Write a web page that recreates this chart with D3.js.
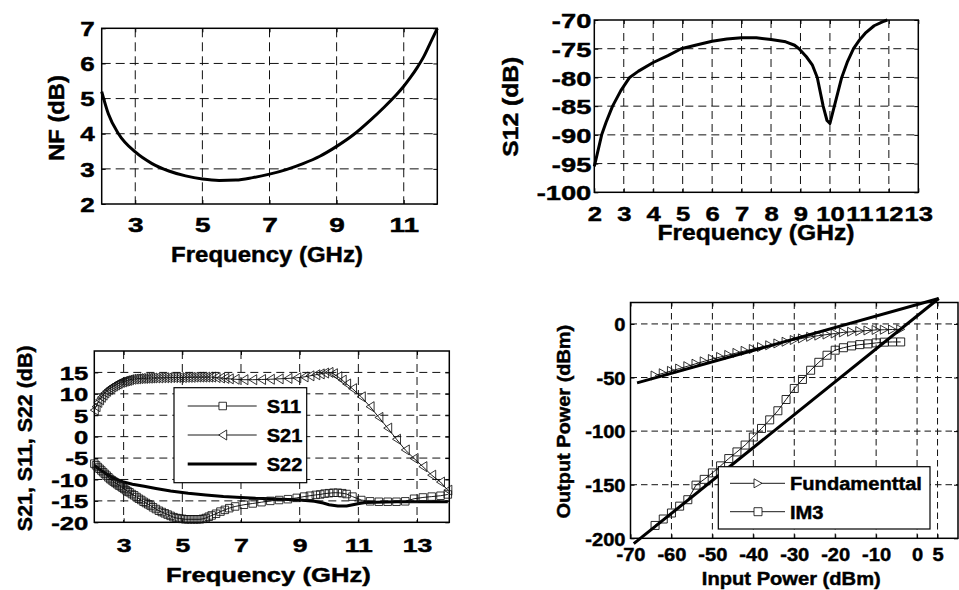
<!DOCTYPE html>
<html><head><meta charset="utf-8">
<script src="https://cdn.jsdelivr.net/npm/d3@7"></script>
<style>
body{margin:0;background:#fff}
svg{display:block}
text{font-family:"Liberation Sans",Arial,Helvetica,sans-serif;font-weight:bold;fill:#000;stroke:#000;stroke-width:0.45px}
</style>
</head><body><script>
// ---------- Panel 1: NF ----------
const nfFreq = [2.0,2.2,2.5,3.0,3.5,4.0,4.5,5.0,5.5,6.0,6.5,7.0,7.5,8.0,8.5,9.0,9.5,10.0,10.4,10.8,11.0,11.2,11.4,11.6,11.8,12.0];
const nfVal  = [5.2,4.56,4.0,3.48,3.15,2.94,2.8,2.71,2.67,2.68,2.75,2.85,2.98,3.15,3.36,3.64,3.97,4.38,4.74,5.13,5.35,5.6,5.88,6.2,6.6,7.0];
const nfXTicks = [3,5,7,9,11];
const nfYTicks = [2,3,4,5,6,7];

// ---------- Panel 2: S12 ----------
const s12Freq = [2.0,2.1,2.25,2.4,2.62,2.9,3.2,3.5,4.0,4.5,4.95,5.5,6.0,6.5,7.0,7.5,8.0,8.5,8.8,8.95,9.2,9.4,9.57,9.77,9.9,10.0,10.2,10.4,10.6,10.8,11.0,11.2,11.5,11.8,11.95];
const s12Val  = [-95.5,-93.3,-90,-87.8,-85,-82.3,-80,-78.9,-77.4,-76.2,-75.0,-74.3,-73.7,-73.3,-73.1,-73.1,-73.4,-73.8,-74.4,-75.0,-76.4,-77.8,-80,-85,-87.5,-88,-84,-80,-77.2,-75,-73.5,-72.3,-71.0,-70.3,-70.0];
const s12XTicks = [2,3,4,5,6,7,8,9,10,11,12,13];
const s12YTicks = [-100,-95,-90,-85,-80,-75,-70];

// ---------- Panel 3: S-parameters ----------
const spFreq = [2.00,2.06,2.12,2.18,2.24,2.30,2.36,2.42,2.48,2.54,2.60,2.66,2.72,2.78,2.84,2.90,2.96,3.02,3.08,3.14,3.20,3.28,3.36,3.44,3.52,3.60,3.68,3.76,3.84,3.92,4.00,4.10,4.20,4.30,4.40,4.50,4.60,4.70,4.80,4.90,5.00,5.10,5.20,5.30,5.40,5.50,5.60,5.70,5.80,5.90,6.00,6.15,6.30,6.45,6.60,6.80,7.10,7.40,7.70,8.00,8.30,8.60,8.90,9.15,9.35,9.55,9.70,9.85,10.00,10.15,10.30,10.45,10.60,10.80,11.10,11.40,11.70,12.00,12.30,12.60,12.90,13.20,13.50,13.80,14.05];
const s21Val = [6.2,7.0,8.0,8.6,9.2,9.7,10.2,10.6,11.0,11.3,11.6,11.85,12.1,12.3,12.5,12.7,12.8,12.95,13.05,13.15,13.3,13.4,13.45,13.5,13.55,13.6,13.6,13.65,13.65,13.7,13.7,13.7,13.7,13.75,13.75,13.75,13.8,13.8,13.8,13.8,13.8,13.85,13.85,13.85,13.9,13.9,13.9,13.9,13.9,13.9,13.9,13.8,13.7,13.6,13.5,13.4,13.3,13.3,13.35,13.4,13.5,13.6,13.75,13.95,14.2,14.45,14.65,14.85,15.0,14.7,14.0,13.2,12.3,11.2,9.3,7.0,4.5,2.0,-0.6,-3.1,-5.1,-7.0,-9.0,-10.6,-12.5];
const s11Val = [-6.3,-6.7,-7.1,-7.5,-7.9,-8.3,-8.7,-9.1,-9.5,-9.9,-10.2,-10.5,-10.8,-11.1,-11.4,-11.6,-11.9,-12.2,-12.5,-12.8,-13.0,-13.4,-13.7,-14.1,-14.5,-14.8,-15.2,-15.5,-15.8,-16.1,-16.5,-16.9,-17.3,-17.6,-17.9,-18.2,-18.5,-18.8,-19.0,-19.1,-19.2,-19.3,-19.3,-19.3,-19.3,-19.3,-19.3,-19.2,-19.0,-18.7,-18.4,-18.0,-17.5,-17.1,-16.7,-16.3,-15.9,-15.6,-15.3,-15.0,-14.8,-14.6,-14.3,-14.0,-13.8,-13.6,-13.5,-13.3,-13.2,-13.1,-13.1,-13.2,-13.4,-14.0,-14.8,-15.1,-15.2,-15.2,-15.2,-15.1,-14.5,-14.2,-14.0,-13.8,-13.5];
const s22Freq = [2.0,2.3,2.6,3.0,3.3,3.7,4.1,4.6,5.2,5.8,6.4,7.0,7.5,8.0,8.6,9.0,9.5,9.8,10.0,10.3,10.6,10.9,11.2,11.6,12.3,13.0,14.05];
const s22Val  = [-6.8,-8.2,-9.5,-10.6,-11.1,-11.6,-12.1,-12.7,-13.2,-13.6,-14.0,-14.2,-14.4,-14.5,-14.7,-14.8,-15.1,-15.5,-15.9,-16.2,-16.2,-15.8,-15.4,-15.3,-15.2,-15.2,-15.2];
const spXTicks = [3,5,7,9,11,13];
const spYTicks = [-20,-15,-10,-5,0,5,10,15];
const spLegend = ["S11","S21","S22"];

// ---------- Panel 4: linearity ----------
const pin = [-64,-62,-60,-58,-56,-54,-52,-50,-48,-46,-44,-42,-40,-38,-36,-34,-32,-30,-28,-26,-24,-22,-20,-18,-16,-14,-12,-10,-8,-6,-4];
const fundVal = [-48.1,-46.0,-43.8,-41.6,-39.4,-37.1,-34.9,-32.7,-30.8,-28.9,-27.0,-25.1,-23.4,-21.6,-19.9,-18.2,-16.6,-15.0,-13.5,-12.0,-10.9,-9.9,-8.9,-7.9,-7.3,-6.7,-6.1,-5.6,-5.4,-5.2,-5.0];
const im3Val = [-188,-182,-176.4,-170,-164,-150.4,-145,-139,-132.4,-125.6,-119.4,-113,-105.5,-97.5,-89.5,-81,-70.5,-60.2,-51.8,-43.2,-35.8,-29.2,-24.5,-22.2,-20.5,-19.3,-18.6,-17.7,-17.0,-16.8,-16.8];
const fundFitX = [-68.4, 5.3];
const fundFitY = [-55, 23.7];
const im3FitX = [-69.2, 5.3];
const im3FitY = [-205, 23.7];
const lpXTicks = [-70,-60,-50,-40,-30,-20,-10,0,5];
const lpYTicks = [-200,-150,-100,-50,0];
const lpLegend = ["Fundamenttal","IM3"];

// =====================================================
const svg = d3.select("body").append("svg").attr("width",959).attr("height",590);
svg.append("rect").attr("width",959).attr("height",590).attr("fill","#fff");

function stretchText(g, str, x, y, size, sx, rot, anchor){
  return g.append("text")
    .attr("transform", `translate(${x},${y}) rotate(${rot||0}) scale(${sx},1)`)
    .attr("text-anchor", anchor||"middle")
    .attr("font-size", size)
    .text(str);
}

function panel(o){
  const x = d3.scaleLinear().domain(o.xd).range([o.L,o.R]);
  const y = d3.scaleLinear().domain(o.yd).range([o.B,o.T]);
  const g = svg.append("g");
  const dash = o.dash || "7,4.5";
  g.selectAll(".gx").data(o.xg).enter().append("line")
    .attr("x1",d=>x(d)).attr("x2",d=>x(d)).attr("y1",o.T).attr("y2",o.B)
    .attr("stroke","#111").attr("stroke-width",1).attr("stroke-dasharray",dash);
  g.selectAll(".gy").data(o.yg).enter().append("line")
    .attr("y1",d=>y(d)).attr("y2",d=>y(d)).attr("x1",o.L).attr("x2",o.R)
    .attr("stroke","#111").attr("stroke-width",1).attr("stroke-dasharray",dash);
  const fmt = d=>String(d);
  const gb = g.append("g").attr("transform",`translate(0,${o.B})`)
    .call(d3.axisBottom(x).tickValues(o.xt).tickSize(-4).tickFormat(fmt));
  gb.select(".domain").remove();
  gb.selectAll("line").attr("stroke","#000");
  gb.selectAll("text").attr("y",o.xpad).attr("dy","0.71em")
    .attr("font-size",o.tf).attr("fill","#000")
    .attr("transform",`scale(${o.tsx},1)`);
  const gl = g.append("g").attr("transform",`translate(${o.L},0)`)
    .call(d3.axisLeft(y).tickValues(o.yt).tickSize(-4).tickFormat(fmt));
  gl.select(".domain").remove();
  gl.selectAll("line").attr("stroke","#000");
  gl.selectAll("text").attr("x",-o.ypad/o.tsy).attr("dy","0.36em")
    .attr("font-size",o.tf).attr("fill","#000")
    .attr("transform",`scale(${o.tsy},1)`);
  const gt = g.append("g").attr("transform",`translate(0,${o.T})`)
    .call(d3.axisTop(x).tickValues(o.xt).tickSize(-4).tickFormat(""));
  gt.select(".domain").remove();
  const gr = g.append("g").attr("transform",`translate(${o.R},0)`)
    .call(d3.axisRight(y).tickValues(o.yt).tickSize(-4).tickFormat(""));
  gr.select(".domain").remove();
  g.append("rect").attr("x",o.L).attr("y",o.T).attr("width",o.R-o.L).attr("height",o.B-o.T)
    .attr("fill","none").attr("stroke","#000").attr("stroke-width",1.5);
  stretchText(g, o.xTitle, o.xtx, o.xty, o.ttf, o.xtsx, 0, "middle");
  stretchText(g, o.yTitle, o.ytx, o.yty, o.ytf||o.ttf, o.ytsx, -90, "middle");
  return {g,x,y};
}

function sq(s){ const h=s/2; return `M${-h},${-h}H${h}V${h}H${-h}Z`; }
function triLeft(w,h){ return `M${-w/2},0L${w/2},${-h/2}L${w/2},${h/2}Z`; }
function triRight(w,h){ return `M${w/2},0L${-w/2},${-h/2}L${-w/2},${h/2}Z`; }

// ---------- Panel 1 ----------
{
  const p = panel({L:101.7,R:437.3,T:28.3,B:204,xd:[2,12],yd:[2,7],
    xt:nfXTicks,yt:nfYTicks,xg:[3,5,7,9,11],yg:[3,4,5,6],
    tf:20,tsx:1.4,tsy:1.3,xpad:14,ypad:7,dash:"9,5",
    xTitle:"Frequency (GHz)",xtx:267,xty:261.5,ttf:22,xtsx:1.09,
    yTitle:"NF (dB)",ytx:64,yty:118,ytsx:1.08});
  const line = d3.line().x((d,i)=>p.x(nfFreq[i])).y(d=>p.y(d)).curve(d3.curveMonotoneX);
  p.g.append("path").attr("d",line(nfVal)).attr("fill","none").attr("stroke","#000").attr("stroke-width",3);
}

// ---------- Panel 2 ----------
{
  const p = panel({L:594.3,R:918.3,T:20,B:192.3,xd:[2,13],yd:[-100,-70],
    xt:s12XTicks,yt:s12YTicks,xg:[3,4,5,6,7,8,9,10,11,12],yg:[-95,-90,-85,-80,-75],
    tf:21,tsx:1.22,tsy:1.3,xpad:13.5,ypad:3,dash:"8,5",
    xTitle:"Frequency (GHz)",xtx:756,xty:240,ttf:22,xtsx:1.12,
    yTitle:"S12 (dB)",ytx:517.5,yty:106.7,ytsx:1.12});
  const line = d3.line().x((d,i)=>p.x(s12Freq[i])).y(d=>p.y(d));
  p.g.append("path").attr("d",line(s12Val)).attr("fill","none").attr("stroke","#000").attr("stroke-width",3).attr("stroke-linejoin","round");
}

// ---------- Panel 3 ----------
{
  const p = panel({L:94.3,R:449.3,T:351,B:522.3,xd:[2,14.1],yd:[-20,20],
    xt:spXTicks,yt:spYTicks,xg:[3,5,7,9,11,13],yg:[-15,-10,-5,0,5,10,15],
    tf:19,tsx:1.4,tsy:1.35,xpad:16,ypad:6,dash:"8,5",
    xTitle:"Frequency (GHz)",xtx:268.3,xty:581.5,ttf:21,xtsx:1.22,
    yTitle:"S21, S11, S22 (dB)",ytx:31.7,yty:438.3,ytf:21,ytsx:1.02});
  const lineA = d3.line().x((d,i)=>p.x(spFreq[i])).y(d=>p.y(d));
  const lineS22 = d3.line().x((d,i)=>p.x(s22Freq[i])).y(d=>p.y(d));
  p.g.append("path").attr("d",lineS22(s22Val)).attr("fill","none").attr("stroke","#000").attr("stroke-width",3);
  p.g.append("path").attr("d",lineA(s11Val)).attr("fill","none").attr("stroke","#000").attr("stroke-width",0.9);
  p.g.selectAll(".m11").data(s11Val).enter().append("path")
    .attr("transform",(d,i)=>`translate(${p.x(spFreq[i])},${p.y(d)})`)
    .attr("d",sq(7.5)).attr("fill","none").attr("stroke","#111").attr("stroke-width",0.85);
  p.g.append("path").attr("d",lineA(s21Val)).attr("fill","none").attr("stroke","#000").attr("stroke-width",0.9);
  p.g.selectAll(".m21").data(s21Val).enter().append("path")
    .attr("transform",(d,i)=>`translate(${p.x(spFreq[i])},${p.y(d)})`)
    .attr("d",triLeft(8,10)).attr("fill","none").attr("stroke","#111").attr("stroke-width",0.85);
  const lg = p.g.append("g");
  lg.append("rect").attr("x",174).attr("y",387.7).attr("width",132.7).attr("height",95)
    .attr("fill","#fff").attr("stroke","#000").attr("stroke-width",1.2);
  const rows = [406,435,464];
  spLegend.forEach((name,i)=>{
    lg.append("line").attr("x1",187.7).attr("x2",256.7).attr("y1",rows[i]).attr("y2",rows[i])
      .attr("stroke","#000").attr("stroke-width", i===2?3.2:0.9);
    if(i===0) lg.append("path").attr("transform",`translate(222.7,${rows[i]})`).attr("d",sq(7.5)).attr("fill","#fff").attr("stroke","#111").attr("stroke-width",0.85);
    if(i===1) lg.append("path").attr("transform",`translate(222.7,${rows[i]})`).attr("d",triLeft(8,10)).attr("fill","#fff").attr("stroke","#111").attr("stroke-width",0.85);
    stretchText(lg, name, 266.7, rows[i]+6.5, 18.5, 1.08, 0, "start");
  });
}

// ---------- Panel 4 ----------
{
  const p = panel({L:630.5,R:958,T:302.5,B:538.3,xd:[-70,10],yd:[-200,20],
    xt:lpXTicks,yt:lpYTicks,xg:[-60,-50,-40,-30,-20,-10,0,5],yg:[-150,-100,-50,0],
    tf:18.6,tsx:1.08,tsy:1.08,xpad:10,ypad:5,dash:"6.5,4",
    xTitle:"Input Power (dBm)",xtx:791.3,xty:585,ttf:19,xtsx:1.06,
    yTitle:"Output Power (dBm)",ytx:570,yty:421.7,ytsx:1.05});
  const lf = d3.line().x((d,i)=>p.x(pin[i])).y(d=>p.y(d));
  p.g.append("path").attr("d",lf(fundVal)).attr("fill","none").attr("stroke","#000").attr("stroke-width",0.9);
  p.g.selectAll(".mf").data(fundVal).enter().append("path")
    .attr("transform",(d,i)=>`translate(${p.x(pin[i])},${p.y(d)})`)
    .attr("d",triRight(8,9)).attr("fill","none").attr("stroke","#111").attr("stroke-width",0.85);
  p.g.append("path").attr("d",lf(im3Val)).attr("fill","none").attr("stroke","#000").attr("stroke-width",0.9);
  p.g.selectAll(".mi").data(im3Val).enter().append("path")
    .attr("transform",(d,i)=>`translate(${p.x(pin[i])},${p.y(d)})`)
    .attr("d",sq(8)).attr("fill","none").attr("stroke","#111").attr("stroke-width",0.9);
  const fl1 = d3.line().x((d,i)=>p.x(fundFitX[i])).y(d=>p.y(d));
  p.g.append("path").attr("d",fl1(fundFitY)).attr("fill","none").attr("stroke","#000").attr("stroke-width",3);
  const fl2 = d3.line().x((d,i)=>p.x(im3FitX[i])).y(d=>p.y(d));
  p.g.append("path").attr("d",fl2(im3FitY)).attr("fill","none").attr("stroke","#000").attr("stroke-width",3);
  const lg = p.g.append("g");
  lg.append("rect").attr("x",718.3).attr("y",466.7).attr("width",211.7).attr("height",62.3)
    .attr("fill","#fff").attr("stroke","#000").attr("stroke-width",1.2);
  const rows = [483.3,511.7];
  lpLegend.forEach((name,i)=>{
    lg.append("line").attr("x1",730).attr("x2",785).attr("y1",rows[i]).attr("y2",rows[i])
      .attr("stroke","#000").attr("stroke-width",0.9);
    lg.append("path").attr("transform",`translate(758,${rows[i]})`)
      .attr("d", i===0?triRight(8,9):sq(8)).attr("fill","#fff").attr("stroke","#111").attr("stroke-width",0.85);
    stretchText(lg, name, 790, rows[i]+7, 19, 1.06, 0, "start");
  });
}
</script></body></html>
